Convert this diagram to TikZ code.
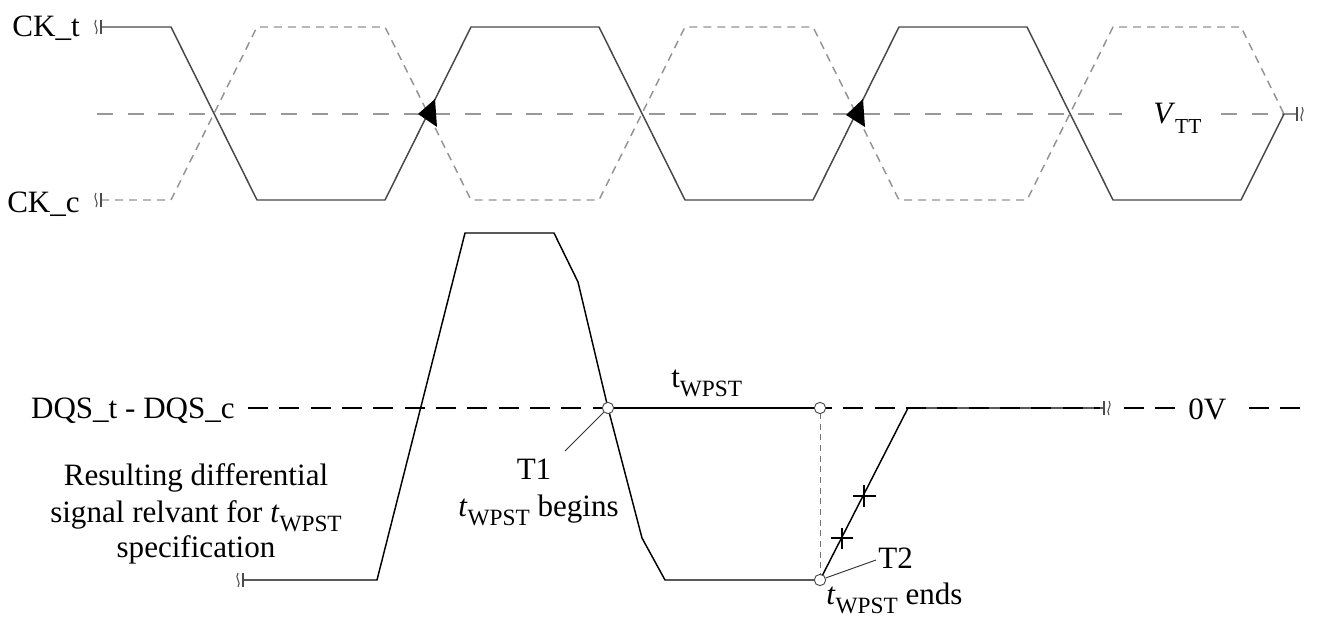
\documentclass[tikz,border=0pt]{standalone}
\usepackage{fontspec}
\setmainfont{Liberation Serif}
\newcommand{\sbs}[2][-7pt]{\raisebox{#1}{\fontsize{17.5}{18}\selectfont #2}}
\begin{document}
\begin{tikzpicture}[x=0.75pt,y=-0.75pt,
  lbl/.style={inner sep=0pt, font=\fontsize{23.3}{28}\selectfont},
  ckt/.style={draw=black!72, line width=1.1pt, line join=round},
  ckc/.style={draw=black!42, line width=1.1pt, dash pattern=on 6pt off 4.5pt},
  vttline/.style={draw=black!40, line width=1.1pt, dash pattern=on 12pt off 11pt},
  zerodash/.style={draw=black, line width=1.1pt, dash pattern=on 15pt off 8.5pt},
  dqs/.style={draw=black, line width=1.1pt, line join=round},
  brks/.pic={\draw[line width=0.8pt,black!70] (-5,-7) .. controls (-9,-2) and (-1,2) .. (-5,7);
             \draw[line width=0.8pt,black!70] (0,-7) -- (0,7);},
  ring/.style={circle, draw=black!70, fill=white, line width=0.7pt, inner sep=0pt, minimum size=8.5pt}
]
\useasboundingbox (0,0) rectangle (1318,617);
\fill[white] (0,0) rectangle (1318,617);

% ---------------- clock section ----------------
\draw[vttline] (97,114) -- (1122,114);
\draw[vttline] (1221,114) -- (1284,114);
\draw[black!45, line width=0.8pt] (1284,114) -- (1297,114);
\pic[xscale=-1] at (1297,114) {brks};

\draw[ckc] (101,200) -- (171,200) -- (257,27) -- (385,27) -- (471,200) -- (599,200)
  -- (685,27) -- (813,27) -- (899,200) -- (1027,200) -- (1113,27) -- (1241,27) -- (1284,114);
\draw[ckt] (101,27) -- (171,27) -- (257,200) -- (385,200) -- (471,27) -- (599,27)
  -- (685,200) -- (813,200) -- (899,27) -- (1027,27) -- (1113,200) -- (1241,200) -- (1284,114);
\pic at (101,27) {brks};
\pic at (101,200) {brks};

\fill[black] (418,114) -- (435,99) -- (437,127) -- cycle;
\fill[black] (846,115) -- (863,99) -- (865,127) -- cycle;

\node[lbl, anchor=base east] (ckt) at (80,37) {CK\_t};
\node[lbl, anchor=base east] (ckc) at (80,212) {CK\_c};
\node[lbl, anchor=base west] (vtt) at (1153,123) {\textit{V}\raisebox{-7.5pt}{\fontsize{16}{17}\selectfont TT}};

% ---------------- DQS section ----------------
\draw[zerodash] (248,408) -- (1100,408);
\draw[zerodash] (1124,408) -- (1175,408);
\draw[zerodash] (1249,408) -- (1300,408);

\draw[dqs] (243,580) -- (377,580) -- (465,233) -- (554,233) -- (578,282) -- (608,408)
  -- (642,538) -- (665,580) -- (820,580) -- (908,408) -- (1104,408);
\pic at (243,580) {brks};
\pic[xscale=-1] at (1104,408) {brks};

\draw[black, line width=2pt] (608,408) -- (820,408);
\draw[black!55, line width=0.6pt, dash pattern=on 4.5pt off 3.5pt] (820,413) -- (820,575);

% tick crosses on the rising edge
\draw[black, line width=0.9pt] (853,496) -- (876,496) (864,485) -- (864,507);
\draw[black, line width=0.9pt] (831,538) -- (853,538) (842,528) -- (842,549);

\node[ring] (p1) at (608,408) {};
\node[ring] (p2) at (820,408) {};
\node[ring] (p3) at (820,580) {};

\coordinate (t1lead) at (565,451);
\coordinate (t2lead) at (876,560);
\draw[black!80, line width=0.7pt] (t1lead) -- (p1);
\draw[black!80, line width=0.7pt] (p3) -- (t2lead);

\node[lbl, anchor=base east] (dqs) at (235,418) {DQS\_t - DQS\_c};
\node[lbl, anchor=base west] (zero) at (1188,419) {0V};
\node[lbl, anchor=base] (r1) at (196,485) {Resulting differential};
\node[lbl, anchor=base] (r2) at (196,522) {signal relvant for \textit{t}\sbs{WPST}};
\node[lbl, anchor=base] (r3) at (196,557) {specification};

\node[lbl, anchor=base west] (twpst) at (671,387) {t\sbs{WPST}};
\node[lbl, anchor=base] (t1) at (534,479) {T1};
\node[lbl, anchor=base east] (beg) at (619,516) {\textit{t}\sbs{WPST} begins};
\node[lbl, anchor=base west] (t2) at (878,568) {T2};
\node[lbl, anchor=base west] (ends) at (826,604) {\textit{t}\sbs{WPST} ends};
\end{tikzpicture}
\end{document}
